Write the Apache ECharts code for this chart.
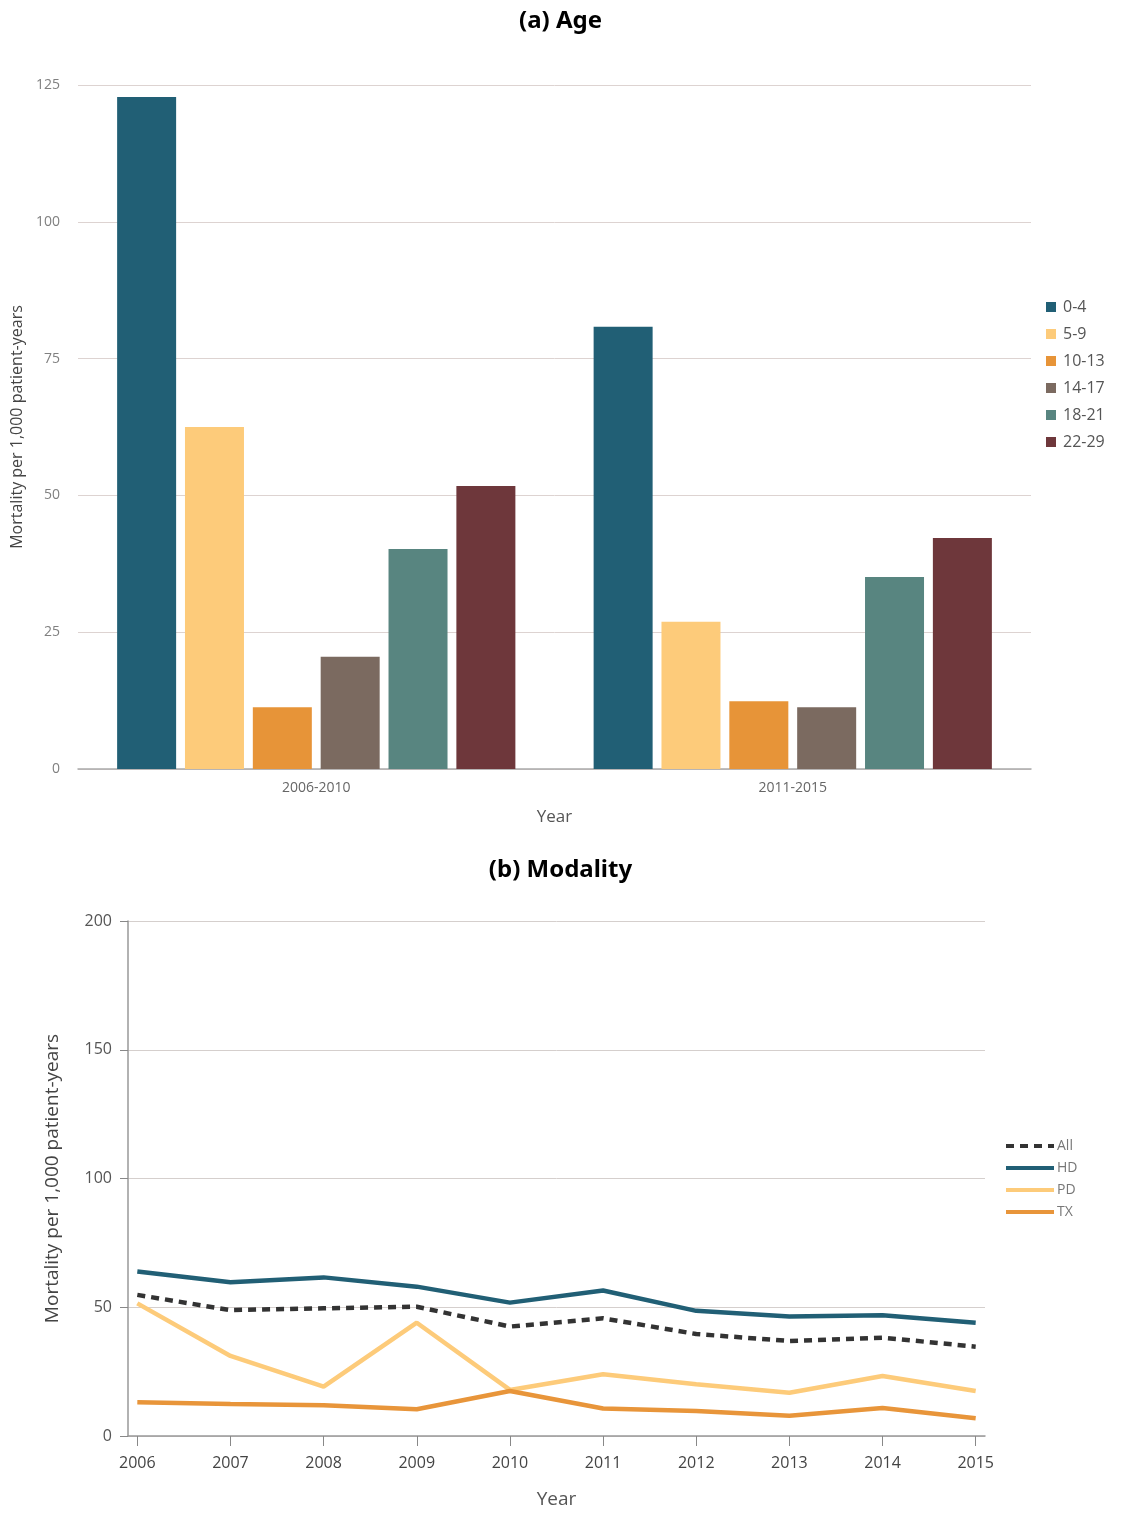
<!DOCTYPE html>
<html>
<head>
<meta charset="utf-8">
<title>Mortality per 1,000 patient-years</title>
<script src="https://cdn.jsdelivr.net/npm/echarts@6/dist/echarts.min.js"></script>
<style>
  html, body { margin: 0; padding: 0; background: #fff; }
  #chart { width: 1121px; height: 1513px; }
</style>
</head>
<body>
<div id="chart"></div>
<script>
// (a) Age: mortality by age group and period
const periods = ['2006-2010', '2011-2015'];
const ageGroups = ['0-4', '5-9', '10-13', '14-17', '18-21', '22-29'];
const age_0_4   = [122.8, 80.8];
const age_5_9   = [62.5, 26.9];
const age_10_13 = [11.3, 12.4];
const age_14_17 = [20.5, 11.3];
const age_18_21 = [40.2, 35.1];
const age_22_29 = [51.7, 42.2];
const ageTicks = [0, 25, 50, 75, 100, 125];

// (b) Modality: mortality by dialysis modality per year
const years = [2006, 2007, 2008, 2009, 2010, 2011, 2012, 2013, 2014, 2015];
const modAll = [54.8, 48.9, 49.6, 50.2, 42.5, 45.7, 39.6, 36.9, 38.2, 34.7];
const modHD  = [63.9, 59.7, 61.6, 58.0, 51.8, 56.5, 48.6, 46.4, 46.9, 44.0];
const modPD  = [51.5, 31.1, 19.2, 44.0, 17.9, 24.0, 20.1, 16.8, 23.3, 17.5];
const modTX  = [13.1, 12.4, 11.9, 10.4, 17.5, 10.7, 9.7, 7.9, 10.9, 6.9];
const modTicks = [0, 50, 100, 150, 200];

const ageValues = [age_0_4, age_5_9, age_10_13, age_14_17, age_18_21, age_22_29];
const ageColors = ['#215F75', '#FDCB7A', '#E79438', '#7B6A60', '#588580', '#6E373B'];

const FONT = '"Open Sans", "Noto Sans", sans-serif';
const TITLE_FONT = '"Noto Sans", "Open Sans", sans-serif';

const chart = echarts.init(document.getElementById('chart'), null, { renderer: 'canvas' });

const barSeries = ageGroups.map((g, i) => ({
  name: g,
  type: 'bar',
  xAxisIndex: 0,
  yAxisIndex: 0,
  data: ageValues[i],
  barWidth: 59,
  barGap: '15%',
  itemStyle: { color: ageColors[i] },
  emphasis: { disabled: true }
}));

const lineDefs = [
  { name: 'All', data: modAll, color: '#333333', type: [8, 6] },
  { name: 'HD', data: modHD, color: '#215F75', type: 'solid' },
  { name: 'PD', data: modPD, color: '#FDCB7A', type: 'solid' },
  { name: 'TX', data: modTX, color: '#E8953A', type: 'solid' }
];
// draw order: PD and TX under, then All, HD on top
const drawOrder = ['PD', 'TX', 'All', 'HD'];
const lineSeries = drawOrder.map(n => {
  const d = lineDefs.find(x => x.name === n);
  return {
    name: d.name,
    type: 'line',
    xAxisIndex: 1,
    yAxisIndex: 1,
    data: years.map((y, i) => [y, d.data[i]]),
    symbol: 'none',
    lineStyle: { color: d.color, width: 4.5, type: d.type },
    itemStyle: { color: d.color },
    emphasis: { disabled: true }
  };
});

const option = {
  backgroundColor: '#ffffff',
  animation: false,
  title: [
    {
      text: '(a) Age', left: 'center', top: 4,
      textStyle: { fontFamily: TITLE_FONT, fontWeight: 'bold', fontSize: 24, color: '#000' }
    },
    {
      text: '(b) Modality', left: 'center', top: 853,
      textStyle: { fontFamily: TITLE_FONT, fontWeight: 'bold', fontSize: 24, color: '#000' }
    }
  ],
  legend: [
    {
      data: ageGroups,
      orient: 'vertical',
      left: 1041,
      top: 292,
      icon: 'rect',
      itemWidth: 10,
      itemHeight: 10,
      itemGap: 7,
      selectedMode: false,
      textStyle: { fontFamily: FONT, fontSize: 16, color: '#555', lineHeight: 20, padding: [0, 0, 0, 2] }
    },
    {
      data: ['All', 'HD', 'PD', 'TX'],
      orient: 'vertical',
      left: 999,
      top: 1133,
      itemWidth: 48,
      itemHeight: 10,
      itemGap: 6,
      selectedMode: false,
      itemStyle: { opacity: 0 },
      lineStyle: { width: 4 },
      textStyle: { fontFamily: FONT, fontSize: 14, color: '#777', lineHeight: 16, padding: [0, 0, 0, -2] }
    }
  ],
  grid: [
    { left: 78, right: 90, top: 85, bottom: 744 },
    { left: 128, right: 136, top: 921, bottom: 77 }
  ],
  xAxis: [
    {
      gridIndex: 0,
      type: 'category',
      data: periods,
      axisLine: { lineStyle: { color: '#aaaaaa', width: 1.5 } },
      axisTick: { show: false },
      axisLabel: { fontFamily: FONT, fontSize: 14, color: '#666', margin: 12 },
      name: 'Year',
      nameLocation: 'middle',
      nameGap: 40,
      nameTextStyle: { fontFamily: FONT, fontSize: 17, color: '#555' }
    },
    {
      gridIndex: 1,
      type: 'value',
      min: 2005.9,
      max: 2015.1,
      axisLine: { lineStyle: { color: '#999', width: 1.5 } },
      axisTick: { show: true, customValues: years, length: 10, lineStyle: { color: '#888' } },
      axisLabel: {
        customValues: years,
        fontFamily: FONT, fontSize: 16, color: '#444', margin: 19,
        formatter: v => String(Math.round(v))
      },
      splitLine: { show: false },
      name: 'Year',
      nameLocation: 'middle',
      nameGap: 54,
      nameTextStyle: { fontFamily: FONT, fontSize: 19, color: '#555' }
    }
  ],
  yAxis: [
    {
      gridIndex: 0,
      type: 'value',
      min: 0,
      max: 125,
      interval: 25,
      axisLine: { show: false },
      axisTick: { show: false },
      axisLabel: { fontFamily: FONT, fontSize: 14, color: '#808080', margin: 18 },
      splitLine: { lineStyle: { color: '#ddd3d1', width: 1 } },
      name: 'Mortality per 1,000 patient-years',
      nameLocation: 'middle',
      nameGap: 52,
      nameTextStyle: { fontFamily: FONT, fontSize: 16, color: '#444' }
    },
    {
      gridIndex: 1,
      type: 'value',
      min: 0,
      max: 200,
      interval: 50,
      axisLine: { show: true, lineStyle: { color: '#999', width: 1.5 } },
      axisTick: { show: true, length: 8, lineStyle: { color: '#888' } },
      axisLabel: { fontFamily: FONT, fontSize: 16, color: '#555', margin: 16 },
      splitLine: { lineStyle: { color: '#d5cfcd', width: 1 } },
      name: 'Mortality per 1,000 patient-years',
      nameLocation: 'middle',
      nameGap: 66,
      nameTextStyle: { fontFamily: FONT, fontSize: 19, color: '#444' }
    }
  ],
  series: barSeries.concat(lineSeries)
};

chart.setOption(option);
</script>
</body>
</html>
